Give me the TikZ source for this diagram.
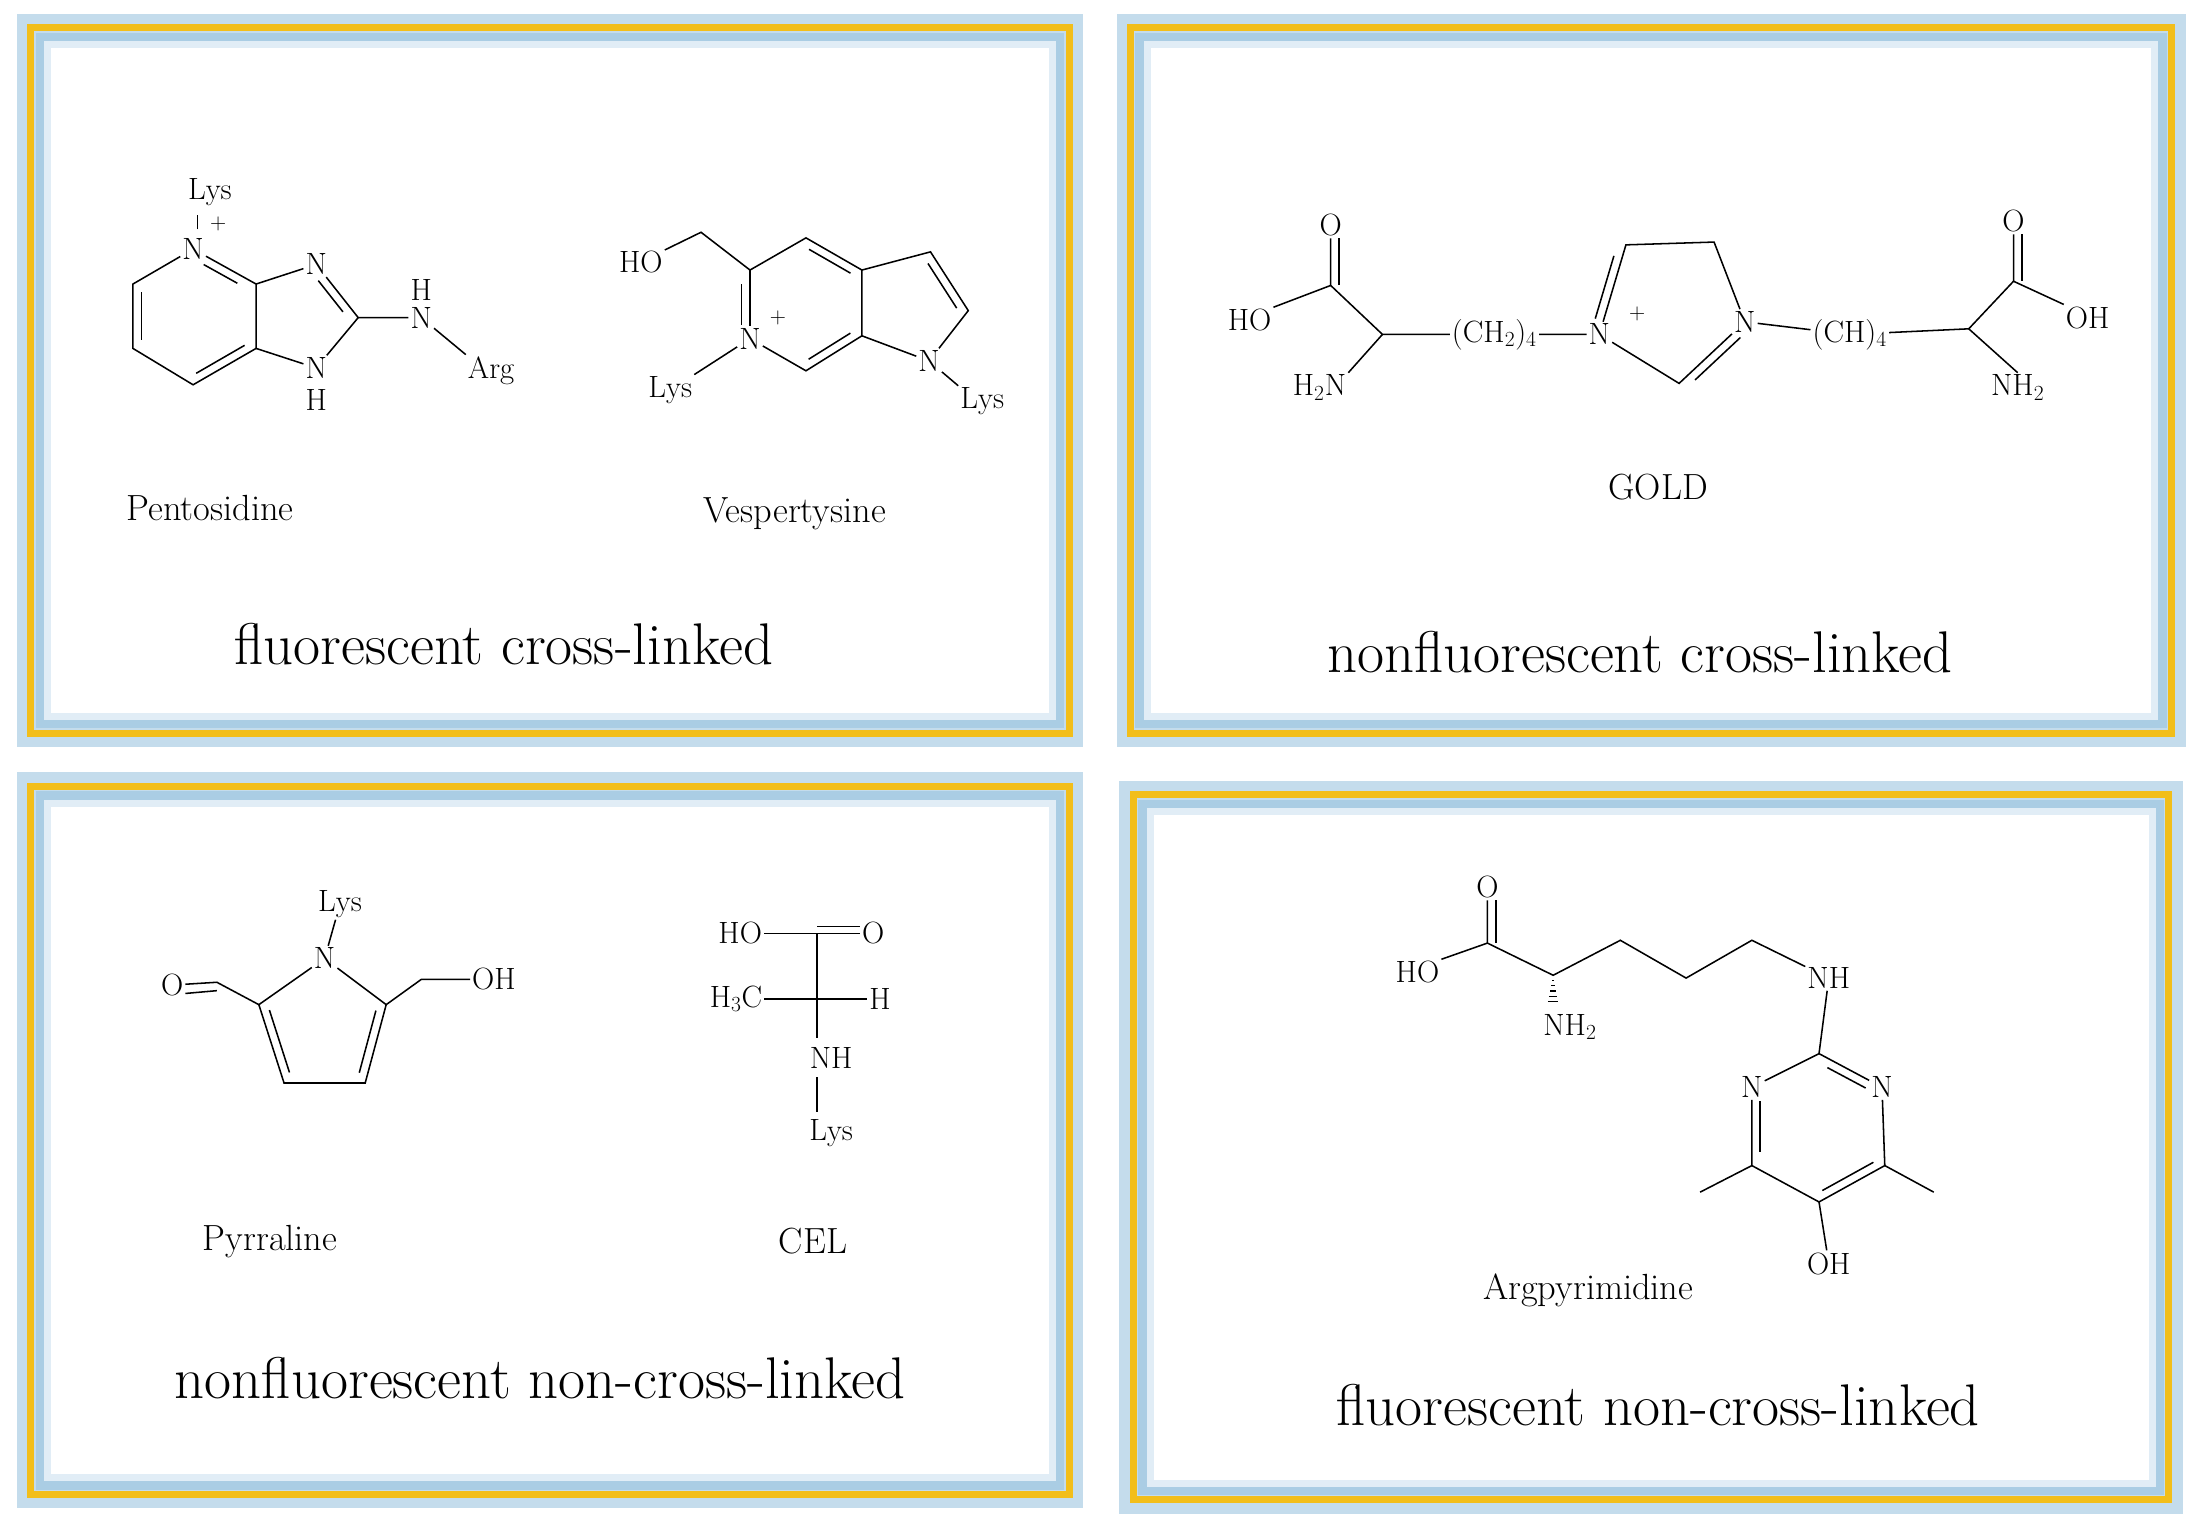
\documentclass[tikz,border=0pt]{standalone}
\usepackage{amsmath}
\usetikzlibrary{calc,positioning}

\definecolor{frameyellow}{RGB}{242,190,26}
\definecolor{frameblue}{RGB}{170,205,228}

% double bond: second line on the left of a->b
\newcommand{\dbl}[3][6pt]{\draw[shorten <=#1,shorten >=#1] ($(#2)!6pt!90:(#3)$) -- ($(#3)!6pt!-90:(#2)$);}

\begin{document}
\begin{tikzpicture}[x=1pt,y=-1pt, line width=1.1pt,
    atom/.style={inner sep=1pt,font=\fontsize{22}{22}\selectfont},
    molname/.style={font=\fontsize{26}{26}\selectfont},
    title/.style={font=\fontsize{42}{42}\selectfont},
    plus/.style={inner sep=0pt,font=\fontsize{16}{16}\selectfont}]
    \useasboundingbox (0,0) rectangle (1568,1091);

    % panels
    \foreach \xa/\ya/\xb/\yb in {22/20/764/524, 808/20/1552/524, 22/562/764/1068, 810/568/1550/1072}{
        \draw[frameblue!70,line width=20pt,fill=white] (\xa,\ya) rectangle (\xb,\yb);
        \draw[frameyellow,line width=5pt] (\xa,\ya) rectangle (\xb,\yb);
        \draw[frameblue,line width=7pt] (\xa+7,\ya+7) rectangle (\xb-7,\yb-7);
        \draw[frameblue!35,line width=5pt] (\xa+12,\ya+12) rectangle (\xb-12,\yb-12);
    }

    % Pentosidine
    \node[atom] (pN) at (138,178) {N};
    \node[atom] (pLys) at (150,137) {Lys};
    \node[plus] at (156,160) {+};
    \coordinate (pB) at (183,203);
    \coordinate (pC) at (183,249);
    \coordinate (pD) at (138,275);
    \coordinate (pE) at (95,249);
    \coordinate (pF) at (95,203);
    \node[atom] (pN3) at (226,189) {N};
    \coordinate (pC2) at (256,227);
    \node[atom] (pN1) at (226,263) {N};
    \node[atom] (pH1) at (226,286) {H};
    \node[atom] (pNH) at (301,227) {N};
    \node[atom] (pH) at (301,207) {H};
    \node[atom] (pArg) at (351,265) {Arg};
    \draw (141,164) -- (141,154);
    \draw (pN) -- (pB) -- (pC) -- (pD) -- (pE) -- (pF) -- (pN);
    \dbl[12pt]{pB}{pN} \dbl{pD}{pC} \dbl{pF}{pE}
    \draw (pB) -- (pN3) -- (pC2) -- (pN1) -- (pC);
    \dbl[10pt]{pC2}{pN3}
    \draw (pC2) -- (pNH) -- (pArg.north west);
    \node[molname] at (150,363) {Pentosidine};

    % Vespertysine
    \node[atom] (vHO) at (458,187) {HO};
    \coordinate (vCH) at (501,166);
    \coordinate (vC5) at (536,193);
    \node[atom] (vN) at (536,242) {N};
    \node[plus] at (556,227) {+};
    \node[atom] (vLys) at (479,279) {Lys};
    \coordinate (vTop) at (576,170);
    \coordinate (vBot) at (576,265);
    \coordinate (vBb) at (616,240);
    \coordinate (vBt) at (616,193);
    \coordinate (vC3) at (665,180);
    \coordinate (vC2) at (692,222);
    \node[atom] (vN1) at (664,258) {N};
    \node[atom] (vLys2) at (702,287) {Lys};
    \draw (vHO) -- (vCH) -- (vC5) -- (vN) -- (vBot) -- (vBb) -- (vBt) -- (vTop) -- (vC5);
    \draw (vBt) -- (vC3) -- (vC2) -- (vN1) -- (vBb);
    \draw (vN) -- (vLys.north east);
    \draw (vN1) -- (vLys2.north west);
    \dbl[10pt]{vN}{vC5} \dbl{vBt}{vTop} \dbl{vBot}{vBb} \dbl{vC2}{vC3}
    \node[molname] at (568,367) {Vespertysine};
    \node[title] at (360,460) {fluorescent cross-linked};

    % GOLD
    \node[atom] (gO1) at (951,161) {O};
    \coordinate (gC1) at (951,204);
    \node[atom] (gHO) at (893,229) {HO};
    \coordinate (gA1) at (988,239);
    \node[atom] (gNH1) at (943,277) {H\textsubscript{2}N};
    \node[atom] (gCH1) at (1068,239) {(CH\textsubscript{2})\textsubscript{4}};
    \node[atom] (gN1) at (1143,239) {N};
    \node[plus] at (1170,224) {+};
    \coordinate (gR1) at (1162,175);
    \coordinate (gR2) at (1225,173);
    \node[atom] (gN2) at (1247,230) {N};
    \coordinate (gR3) at (1200,274);
    \node[atom] (gCH2) at (1322,239) {(CH)\textsubscript{4}};
    \coordinate (gA2) at (1407,235);
    \coordinate (gC2) at (1439,201);
    \node[atom] (gO2) at (1439,158) {O};
    \node[atom] (gOH) at (1492,227) {OH};
    \node[atom] (gNH2) at (1442,277) {NH\textsubscript{2}};
    \draw (gO1) -- (gC1) -- (gA1) -- (gCH1);
    \draw ([xshift=6pt]gO1.south) -- ([xshift=6pt]gC1);
    \draw (gC1) -- (gHO.north east);
    \draw (gA1) -- (gNH1.north east);
    \draw (gCH1) -- (gN1) -- (gR1) -- (gR2) -- (gN2) -- (gR3) -- (gN1);
    \dbl[10pt]{gN1}{gR1} \dbl[10pt]{gN2}{gR3}
    \draw (gN2) -- (gCH2) -- (gA2) -- (gC2) -- (gO2);
    \draw ([xshift=6pt]gO2.south) -- ([xshift=6pt]gC2);
    \draw (gC2) -- (gOH.north west);
    \draw (gA2) -- (gNH2.north);
    \node[molname] at (1185,348) {GOLD};
    \node[title] at (1172,466) {nonfluorescent cross-linked};

    % Pyrraline
    \node[atom] (yLys) at (243,646) {Lys};
    \node[atom] (yN) at (232,685) {N};
    \coordinate (yC2) at (185,718);
    \coordinate (yC3) at (203,774);
    \coordinate (yC4) at (261,774);
    \coordinate (yC5) at (276,718);
    \node[atom] (yO) at (123,704) {O};
    \coordinate (yCO) at (155,702);
    \coordinate (yCH) at (301,700);
    \node[atom] (yOH) at (353,700) {OH};
    \draw (yLys) -- (yN);
    \draw (yN) -- (yC2) -- (yC3) -- (yC4) -- (yC5) -- (yN);
    \dbl{yC2}{yC3} \dbl{yC4}{yC5}
    \draw (yC2) -- (yCO) -- (yO);
    \draw ([yshift=-6pt]yO.east) -- ([yshift=-6pt]yCO);
    \draw (yC5) -- (yCH) -- (yOH);
    \node[molname] at (193,887) {Pyrraline};

    % CEL
    \coordinate (cC1) at (584,667);
    \node[atom] (cHO) at (529,667) {HO};
    \node[atom] (cO) at (624,667) {O};
    \coordinate (cC2) at (584,714);
    \node[atom] (cMe) at (526,714) {H\textsubscript{3}C};
    \node[atom] (cH) at (629,714) {H};
    \node[atom] (cNH) at (594,756) {NH};
    \node[atom] (cLys) at (594,810) {Lys};
    \draw (cHO) -- (cC1) -- (cO);
    \draw ([yshift=5pt]cC1) -- ([yshift=5pt]cO.west);
    \draw (cC1) -- (cC2) -- (584,742);
    \draw (cMe) -- (cC2) -- (cH);
    \draw (584,770) -- (584,795);
    \node[molname] at (581,887) {CEL};
    \node[title] at (386,985) {nonfluorescent non-cross-linked};

    % Argpyrimidine
    \node[atom] (aO) at (1063,634) {O};
    \coordinate (aCc) at (1063,674);
    \node[atom] (aHO) at (1013,695) {HO};
    \coordinate (aA) at (1110,697);
    \node[atom] (aNH2) at (1122,734) {NH\textsubscript{2}};
    \coordinate (aC1) at (1158,672);
    \coordinate (aC2) at (1205,699);
    \coordinate (aC3) at (1252,672);
    \node[atom] (aNH) at (1307,699) {NH};
    \coordinate (aR2) at (1300,753);
    \node[atom] (aNr) at (1345,777) {N};
    \node[atom] (aNl) at (1252,777) {N};
    \coordinate (aR6) at (1347,833);
    \coordinate (aR4) at (1252,833);
    \coordinate (aR5) at (1300,859);
    \node[atom] (aOH) at (1307,903) {OH};
    \coordinate (aMl) at (1215,852);
    \coordinate (aMr) at (1382,852);
    \draw (aO) -- (aCc) -- (aHO.north east);
    \draw ([xshift=6pt]aO.south) -- ([xshift=6pt]aCc);
    \draw (aCc) -- (aA) -- (aC1) -- (aC2) -- (aC3) -- (aNH);
    \foreach \t in {0.15,0.3,...,0.9}
        \draw[line width=0.8pt] ($(aA)!\t!(1110,722)$) ++(-\t*5,0) -- ++(\t*10,0);
    \draw (aNH) -- (aR2) -- (aNr) -- (aR6) -- (aR5) -- (aR4) -- (aNl) -- (aR2);
    \dbl[10pt]{aNr}{aR2} \dbl[10pt]{aNl}{aR4} \dbl{aR5}{aR6}
    \draw (aR4) -- (aMl);
    \draw (aR6) -- (aMr);
    \draw (aR5) -- (aOH);
    \node[molname] at (1135,922) {Argpyrimidine};
    \node[title] at (1185,1004) {fluorescent non-cross-linked};
\end{tikzpicture}
\end{document}
